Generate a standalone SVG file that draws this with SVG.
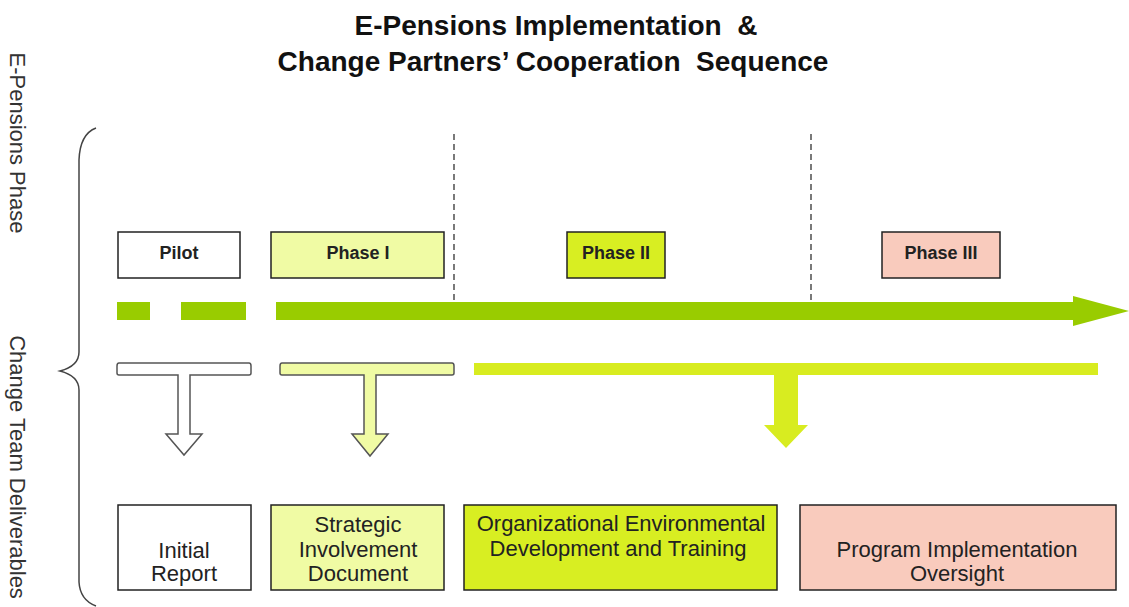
<svg xmlns="http://www.w3.org/2000/svg" width="1129" height="607" viewBox="0 0 1129 607">
<style>
.title{font-family:"Liberation Sans",Arial,sans-serif;font-weight:bold;font-size:28px;fill:#111;text-anchor:middle;white-space:pre}
.side{font-family:"Liberation Sans",Arial,sans-serif;font-size:22px;fill:#333;text-anchor:middle}
.ph{font-family:"Liberation Sans",Arial,sans-serif;font-weight:bold;font-size:18px;fill:#222;text-anchor:middle}
.dl{font-family:"Liberation Sans",Arial,sans-serif;font-size:22px;fill:#222;text-anchor:middle}
.box{stroke:#222;stroke-width:1.5}
.white{fill:#ffffff}
.light{fill:#f0fba4}
.mid{fill:#d8ee22}
.salmon{fill:#f9cbbd}
.dash{stroke:#222;stroke-width:1.2;stroke-dasharray:6,4;fill:none}
</style>
<rect width="1129" height="607" fill="#fff"/>
<text class="title" x="556" y="35" xml:space="preserve">E-Pensions Implementation  &amp;</text>
<text class="title" x="553" y="71" xml:space="preserve">Change Partners’ Cooperation  Sequence</text>
<g id="side-labels">
<text class="side" transform="translate(10,143) rotate(90)">E-Pensions Phase</text>
<text class="side" transform="translate(10,467) rotate(90)">Change Team Deliverables</text>
<path d="M96,128 Q80,134 79,160 L79,352 Q79,366 60,371 Q79,376 79,390 L79,582 Q80,600 96,606" fill="none" stroke="#444" stroke-width="1.5"/>
</g>
<g id="dividers">
<line class="dash" x1="454" y1="134" x2="454" y2="305"/>
<line class="dash" x1="811" y1="134" x2="811" y2="305"/>
</g>
<g id="timeline">
<rect x="117" y="302" width="33" height="18" fill="#99cc00"/>
<rect x="181" y="302" width="65" height="18" fill="#99cc00"/>
<rect x="276" y="302" width="800" height="18" fill="#99cc00"/>
<polygon points="1073,296 1129,311 1073,326" fill="#99cc00"/>
</g>
<g id="pilot"><rect class="box white" x="118" y="232" width="122" height="46"/><text class="ph" x="179" y="259">Pilot</text></g>
<g id="phase1"><rect class="box light" x="271" y="232" width="173" height="46"/><text class="ph" x="358" y="259">Phase I</text></g>
<g id="phase2"><rect class="box mid" x="567" y="232" width="98" height="46"/><text class="ph" x="616" y="259">Phase II</text></g>
<g id="phase3"><rect class="box salmon" x="882" y="232" width="118" height="46"/><text class="ph" x="941" y="259">Phase III</text></g>
<g id="connectors">
<path d="M119,363 H249 Q251,363 251,366 V373 Q251,375 249,375 H190 V434 H202 L184,455 L166,434 H178 V375 H119 Q117,375 117,373 V366 Q117,363 119,363 Z" fill="#fff" stroke="#555" stroke-width="1.5"/>
<path d="M282,363 H452 Q454,363 454,366 V373 Q454,375 452,375 H376 V434 H388 L370,456 L352,434 H364 V375 H282 Q280,375 280,373 V366 Q280,363 282,363 Z" fill="#f0fba4" stroke="#555" stroke-width="1.5"/>
<path d="M474,363 H1098 V375 H798 V425 H808 L786,448 L764,425 H774 V375 H474 Z" fill="#d8ec20"/>
</g>
<g id="initial-report"><rect class="box white" x="118" y="505" width="133" height="85"/><text class="dl" x="184" y="558">Initial</text><text class="dl" x="184" y="581">Report</text></g>
<g id="strategic"><rect class="box light" x="271" y="505" width="173" height="85"/><text class="dl" x="358" y="532">Strategic</text><text class="dl" x="358" y="557">Involvement</text><text class="dl" x="358" y="581">Document</text></g>
<g id="organizational"><rect class="box mid" x="464" y="505" width="313" height="85"/><text class="dl" x="621" y="531">Organizational Environmental</text><text class="dl" x="618" y="556">Development and Training</text></g>
<g id="program"><rect class="box salmon" x="800" y="505" width="316" height="85"/><text class="dl" x="957" y="557">Program Implementation</text><text class="dl" x="957" y="581">Oversight</text></g>
</svg>
